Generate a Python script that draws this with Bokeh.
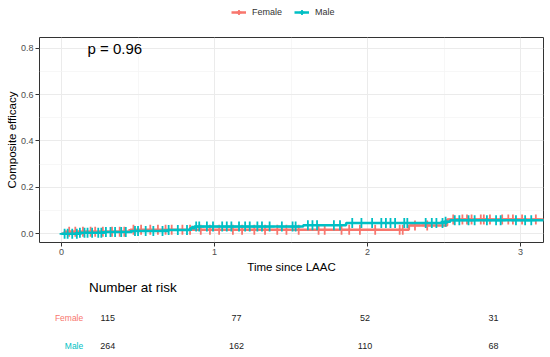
import numpy as np
from bokeh.plotting import figure
from bokeh.models import (Range1d, FixedTicker, PrintfTickFormatter, Legend, LegendItem,
                          Label, ColumnDataSource)
from bokeh.layouts import column
from bokeh.embed import file_html
from bokeh.resources import INLINE
from bokeh.core.properties import value

FONT = "Liberation Sans"
FEMALE_COLOR = "#F8766D"
MALE_COLOR = "#00BFC4"

# ---- data ----
groups = ["Female", "Male"]

female_step_times = [0.0, 0.02, 0.45, 2.27, 2.52, 3.20]
female_cum_eff = [0.0, 0.009, 0.017, 0.036, 0.062, 0.062]

male_step_times = [0.0, 0.12, 0.28, 0.46, 0.70, 0.84, 0.87, 1.58, 1.86, 2.50, 2.54, 3.20]
male_cum_eff = [0.0, 0.004, 0.008, 0.012, 0.016, 0.024, 0.031, 0.037, 0.046, 0.052, 0.058, 0.058]

female_censor_times = [0.05, 0.09, 0.14, 0.19, 0.22, 0.27, 0.33, 0.38, 0.41, 0.47, 0.52, 0.58,
                       0.63, 0.68, 0.72, 0.79, 0.84, 0.91, 0.97, 1.03, 1.12, 1.18, 1.26, 1.33,
                       1.41, 1.47, 1.55, 1.68, 1.72, 1.83, 1.88, 1.95, 2.05, 2.21, 2.23, 2.31,
                       2.39, 2.56, 2.62, 2.65, 2.68, 2.74, 2.76, 2.80, 2.88, 2.92, 2.95, 3.01, 3.10]
male_censor_times = [0.02, 0.04, 0.07, 0.10, 0.12, 0.15, 0.17, 0.20, 0.24, 0.26, 0.29, 0.32,
                     0.35, 0.39, 0.42, 0.48, 0.50, 0.55, 0.60, 0.66, 0.70, 0.76, 0.82, 0.88,
                     0.90, 0.95, 0.99, 1.05, 1.08, 1.11, 1.16, 1.20, 1.23, 1.28, 1.31, 1.36,
                     1.44, 1.51, 1.53, 1.61, 1.64, 1.67, 1.78, 1.82, 1.90, 1.96, 2.03, 2.09,
                     2.12, 2.15, 2.18, 2.24, 2.26, 2.38, 2.42, 2.45, 2.49, 2.51, 2.57, 2.60,
                     2.66, 2.70, 2.78, 2.84, 2.87, 2.97, 3.03, 3.07]

risk_times = [0, 1, 2, 3]
female_at_risk = [115, 77, 52, 31]
male_at_risk = [264, 162, 110, 68]

p_value_text = "p = 0.96"
x_ticks = [0, 1, 2, 3]
y_ticks = [0.0, 0.2, 0.4, 0.6, 0.8]


def step_value(times, vals, t):
    idx = np.searchsorted(np.asarray(times), np.asarray(t), side="right") - 1
    return list(np.asarray(vals)[idx])


def draw_groups(fig, lw=2.5, mw=1.8):
    fl = fig.step(x=female_step_times, y=female_cum_eff, mode="after", line_color=FEMALE_COLOR, line_width=lw)
    fm = fig.scatter(x=female_censor_times, y=step_value(female_step_times, female_cum_eff, female_censor_times),
                     marker="cross", size=10, line_color=FEMALE_COLOR, line_width=mw)
    ml = fig.step(x=male_step_times, y=male_cum_eff, mode="after", line_color=MALE_COLOR, line_width=lw)
    mm = fig.scatter(x=male_censor_times, y=step_value(male_step_times, male_cum_eff, male_censor_times),
                     marker="cross", size=10, line_color=MALE_COLOR, line_width=mw)
    return fl, fm, ml, mm


# ---- legend strip on top (same series, drawn outside its visible range) ----
top = figure(width=550, height=26, x_range=Range1d(0, 1), y_range=Range1d(5, 6),
             output_backend="svg", toolbar_location=None,
             x_axis_location=None, y_axis_location=None,
             min_border_left=0, min_border_right=0, min_border_top=0, min_border_bottom=0)
top.outline_line_color = None
top.xgrid.visible = False
top.ygrid.visible = False
lf_line, lf_mark, lm_line, lm_mark = draw_groups(top)
legend = Legend(items=[LegendItem(label=groups[0], renderers=[lf_line, lf_mark]),
                       LegendItem(label=groups[1], renderers=[lm_line, lm_mark])],
                orientation="horizontal", location=(192, 8),
                border_line_color=None, background_fill_alpha=0,
                label_text_font=FONT, label_text_font_size="9px", label_text_color="#333333",
                glyph_width=15, glyph_height=12, label_height=12, label_standoff=6,
                spacing=12, padding=0, margin=0)
top.add_layout(legend)

# ---- main KM plot ----
p = figure(width=550, height=250, x_range=Range1d(-0.144, 3.150), y_range=Range1d(-0.0376, 0.846),
           output_backend="svg", toolbar_location=None,
           min_border_left=39, min_border_right=7, min_border_top=11, min_border_bottom=34)
p.background_fill_color = "white"
p.border_fill_color = "white"
p.outline_line_color = "#333333"
p.outline_line_width = 1

p.xaxis.ticker = FixedTicker(ticks=x_ticks, minor_ticks=[0.5, 1.5, 2.5])
p.yaxis.ticker = FixedTicker(ticks=y_ticks, minor_ticks=[0.1, 0.3, 0.5, 0.7])
p.yaxis.formatter = PrintfTickFormatter(format="%.1f")
for ax in (p.xaxis, p.yaxis):
    ax.axis_line_color = None
    ax.major_tick_line_color = "#333333"
    ax.major_tick_out = 4
    ax.major_tick_in = 0
    ax.minor_tick_line_color = None
    ax.major_label_text_font = FONT
    ax.major_label_text_font_size = "9px"
    ax.major_label_text_color = "#4D4D4D"
    ax.major_label_standoff = 2
    ax.axis_label_text_font = FONT
    ax.axis_label_text_font_style = "normal"
    ax.axis_label_text_color = "black"
    ax.axis_label_standoff = 0
p.xaxis.axis_label = "Time since LAAC"
p.xaxis.axis_label_text_font_size = "11.5px"
p.xaxis.axis_label_standoff = 3
p.yaxis.axis_label = "Composite efficacy"
p.yaxis.axis_label_text_font_size = "11.5px"

for g in (p.xgrid, p.ygrid):
    g.grid_line_color = "#EBEBEB"
    g.grid_line_width = 1
    g.minor_grid_line_color = "#F4F4F4"
    g.minor_grid_line_width = 0.7

draw_groups(p)

p.add_layout(Label(x=0.17, y=0.8, text=p_value_text, text_font=FONT, text_font_size="15px",
                   text_baseline="middle", text_align="left", text_color="black"))

# ---- risk table ----
r = figure(width=550, height=81, x_range=Range1d(-0.531, 3.388), y_range=Range1d(-0.393, 2.5),
           output_backend="svg", toolbar_location=None,
           x_axis_location=None, y_axis_location=None,
           min_border_left=0, min_border_right=0, min_border_top=0, min_border_bottom=0)
r.outline_line_color = None
r.xgrid.visible = False
r.ygrid.visible = False

row_pos = {"Female": 1, "Male": 0}
src = ColumnDataSource(dict(
    x=risk_times + risk_times,
    y=[row_pos["Female"]] * len(risk_times) + [row_pos["Male"]] * len(risk_times),
    t=[str(v) for v in female_at_risk + male_at_risk]))
r.text(x="x", y="y", text="t", source=src, text_font=value(FONT), text_font_size="9px",
       text_align="center", text_baseline="middle", text_color="#222222")
r.text(x=[-0.191, -0.191], y=[row_pos["Female"], row_pos["Male"]], text=groups,
       text_color=[FEMALE_COLOR, MALE_COLOR], text_font=value(FONT), text_font_size="8.5px",
       text_align="right", text_baseline="middle")
r.text(x=[-0.146], y=[2.1], text=["Number at risk"], text_font=value(FONT), text_font_size="13.5px",
       text_align="left", text_baseline="middle", text_color="black")

layout = column(top, p, r, spacing=0)
open("out.html", "w").write(file_html(layout, INLINE))
